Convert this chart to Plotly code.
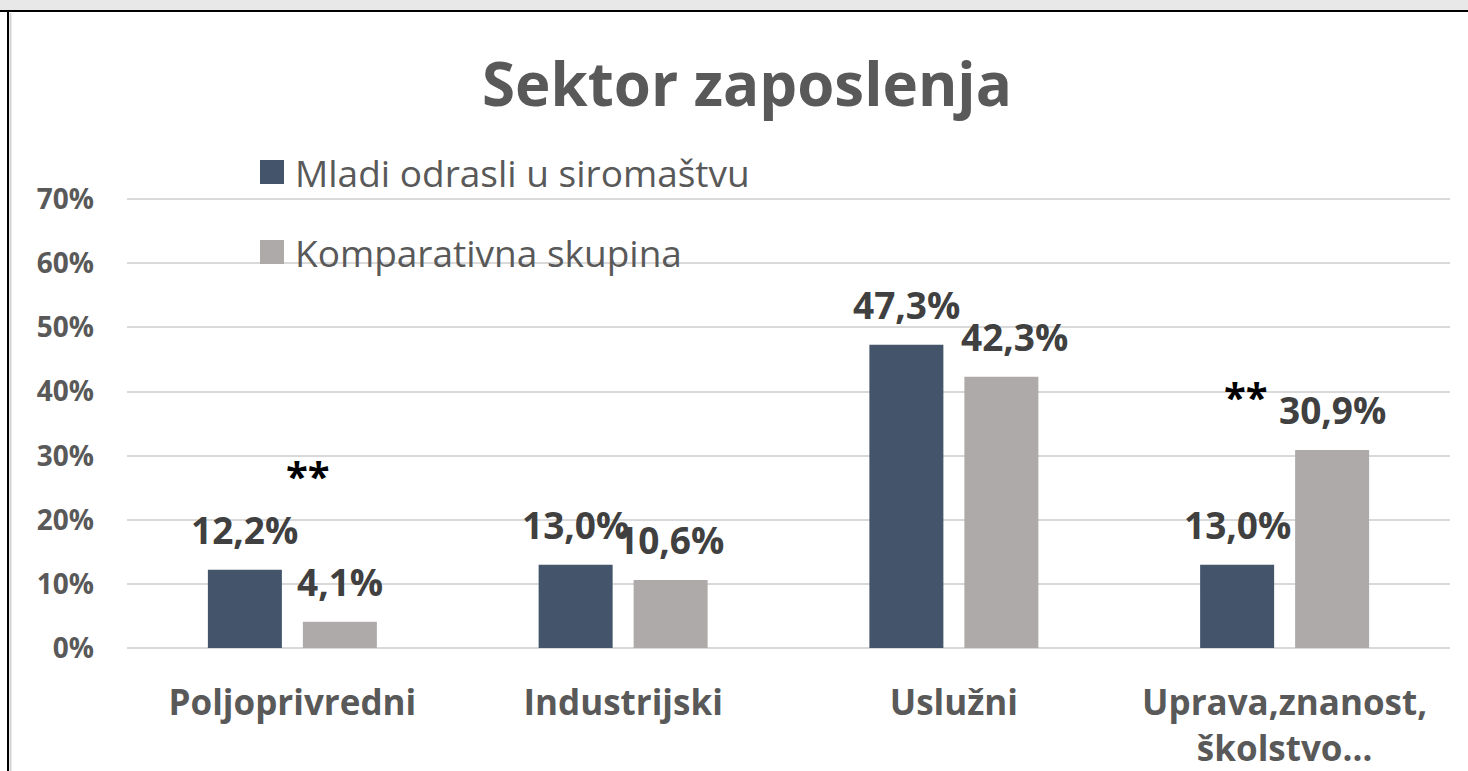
import plotly.graph_objects as go

# --- data ---------------------------------------------------------------
categories = ["Poljoprivredni", "Industrijski", "Uslužni", "Uprava,znanost,<br>školstvo…"]
mladi = [12.2, 13.0, 47.3, 13.0]          # Mladi odrasli u siromaštvu (%)
komparativna = [4.1, 10.6, 42.3, 30.9]    # Komparativna skupina (%)
series_names = ["Mladi odrasli u siromaštvu", "Komparativna skupina"]
significance = {"Poljoprivredni": 27.8, "Uprava,znanost,<br>školstvo…": 40.1}  # "**" marks, y in %
y_ticks = [0, 10, 20, 30, 40, 50, 60, 70]

# --- style --------------------------------------------------------------
BLUE = "#44546A"
GREY = "#AEAAAA"
TXT = "#595959"
LBL = "#404040"
FONT = "Open Sans"

W_PX, H_PX = 1468, 771
Y_MAX = 70.2
L, R, T, B = 127, 18, 198, 123
PW, PH = W_PX - L - R, H_PX - T - B


def px(x):
    return (x - L) / PW


def py(y):
    return (H_PX - B - y) / PH


def pct(v):
    return f"{v:.1f}".replace(".", ",") + "%"


fig = go.Figure()
fig.add_bar(x=categories, y=mladi, name=series_names[0], marker_color=BLUE,
            marker_line_width=0, showlegend=False)
fig.add_bar(x=categories, y=komparativna, name=series_names[1], marker_color=GREY,
            marker_line_width=0, showlegend=False)

annotations = []
# value labels above each bar; the two bars of a group sit 95 px apart
slot = 95
nudge = {(2, 1): (13, 0)}
for si, vals in enumerate([mladi, komparativna]):
    for ci, (cat, v) in enumerate(zip(categories, vals)):
        dx, dy = nudge.get((ci, si), (0, 0))
        annotations.append(dict(
            x=cat, y=v, xref="x", yref="y", text=pct(v), showarrow=False,
            xshift=(-slot / 2 if si == 0 else slot / 2) + dx, yshift=13 + dy,
            yanchor="bottom", xanchor="center",
            font=dict(family=FONT, size=37, color=LBL, weight="bold")))

# significance markers
for cat, yv, dx in [("Poljoprivredni", significance["Poljoprivredni"], 16),
                    ("Uprava,znanost,<br>školstvo…", significance["Uprava,znanost,<br>školstvo…"], -39)]:
    annotations.append(dict(x=cat, y=yv, xref="x", yref="y", text="**", showarrow=False,
                            xshift=dx, yshift=-6,
                            font=dict(family=FONT, size=40, color="#000000", weight="bold")))

# title
annotations.append(dict(x=px(747), y=py(83), xref="paper", yref="paper",
                        text="Sektor zaposlenja", showarrow=False,
                        xanchor="center", yanchor="middle",
                        font=dict(family=FONT, size=60, color=TXT, weight="bold")))

# legend entries
shapes = []
for i, (name, col) in enumerate(zip(series_names, [BLUE, GREY])):
    yc = 172 + 80 * i
    shapes.append(dict(type="rect", xref="paper", yref="paper",
                       x0=px(260), x1=px(284), y0=py(yc + 12), y1=py(yc - 12),
                       fillcolor=col, line_width=0))
    annotations.append(dict(x=px(293), y=py(yc), xref="paper", yref="paper",
                            text=name, showarrow=False, xanchor="left", yanchor="middle",
                            font=dict(family=FONT, size=37, color=TXT)))

# window frame
shapes.append(dict(type="rect", xref="paper", yref="paper", layer="below",
                   x0=px(0), x1=px(W_PX), y0=py(10), y1=py(0),
                   fillcolor="#e8e8e8", line_width=0))
shapes.append(dict(type="line", xref="paper", yref="paper",
                   x0=px(0), x1=px(W_PX), y0=py(11), y1=py(11),
                   line=dict(color="#000000", width=2)))
shapes.append(dict(type="line", xref="paper", yref="paper",
                   x0=px(8), x1=px(8), y0=py(11), y1=py(H_PX),
                   line=dict(color="#000000", width=2)))
shapes.append(dict(type="line", xref="paper", yref="paper",
                   x0=px(10.5), x1=px(10.5), y0=py(13), y1=py(H_PX),
                   line=dict(color="#d4d4d4", width=2)))

fig.update_layout(
    width=W_PX, height=H_PX,
    margin=dict(l=L, r=R, t=T, b=B, autoexpand=False),
    paper_bgcolor="white", plot_bgcolor="white",
    barmode="group", bargap=0.4256, bargroupgap=0.221,
    annotations=annotations, shapes=shapes,
    showlegend=False,
    font=dict(family=FONT, color=TXT),
)
fig.update_xaxes(showgrid=False, showline=False, ticks="", zeroline=False,
                 tickfont=dict(family=FONT, size=35, color=TXT, weight="bold"),
                 ticklabelstandoff=31, fixedrange=True)
fig.update_yaxes(range=[0, Y_MAX], tickvals=y_ticks, ticktext=[f"{t}%" for t in y_ticks],
                 showgrid=True, gridcolor="#d9d9d9", gridwidth=2,
                 zeroline=True, zerolinecolor="#d9d9d9", zerolinewidth=2,
                 showline=False, ticks="",
                 tickfont=dict(family=FONT, size=28, color=TXT, weight="bold"),
                 ticklabelstandoff=32, fixedrange=True)

fig.write_html("out.html", config={"displayModeBar": False})
